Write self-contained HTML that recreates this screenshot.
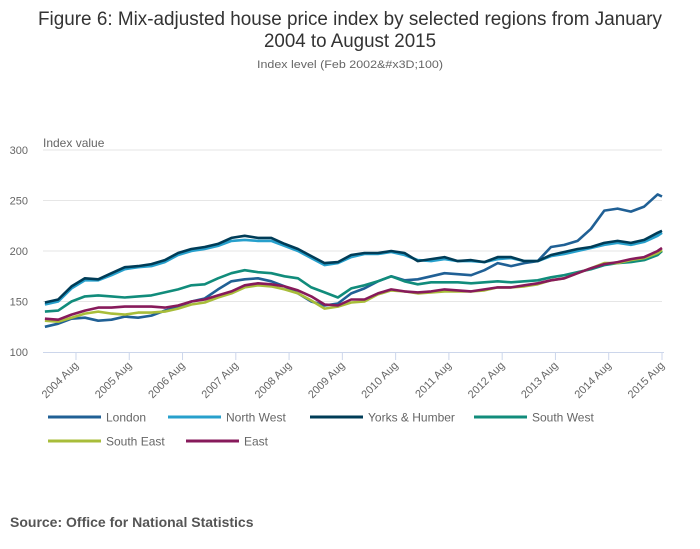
<!DOCTYPE html>
<html><head><meta charset="utf-8"><style>
html,body{margin:0;padding:0;background:#fff;}
svg{display:block;font-family:"Liberation Sans",sans-serif;}
</style></head><body>
<svg id="chart" width="700" height="549" viewBox="0 0 700 549" xmlns="http://www.w3.org/2000/svg">
<text x="350" y="25" text-anchor="middle" font-size="19" fill="#333" textLength="624" lengthAdjust="spacingAndGlyphs">Figure 6: Mix-adjusted house price index by selected regions from January</text>
<text x="350" y="47" text-anchor="middle" font-size="19" fill="#333" textLength="172" lengthAdjust="spacingAndGlyphs">2004 to August 2015</text>
<text x="350" y="68" text-anchor="middle" font-size="11" fill="#666" textLength="186" lengthAdjust="spacingAndGlyphs">Index level (Feb 2002&amp;#x3D;100)</text>
<text x="43" y="147" font-size="12" fill="#666">Index value</text>
<g id="grid"></g>
<g id="yticks"></g>
<g id="xaxis"></g>
<g id="series"></g>
<g id="legend"></g>
<text x="10" y="527" font-size="14" font-weight="bold" fill="#555">Source: Office for National Statistics</text>
</svg>
<script>
const months = [0,3,6,9,12,15,18,21,24,27,30,33,36,39,42,45,48,51,54,57,60,63,66,69,72,75,78,81,84,87,90,93,96,99,102,105,108,111,114,117,120,123,126,129,132,135,138,139];
const london = [125,128,133,134,131,132,135,134,136,141,145,150,153,162,170,172,173,170,165,158,150,146,148,158,163,170,175,171,172,175,178,177,176,181,188,185,188,190,204,206,210,222,240,242,239,244,256,254];
const northWest = [147,150,163,171,171,176,182,184,185,189,196,200,202,205,210,211,210,210,205,200,193,186,188,194,197,197,199,196,191,190,192,190,190,189,192,193,190,190,195,197,200,203,206,208,206,209,215,218];
const yorks = [149,152,165,173,172,178,184,185,187,191,198,202,204,207,213,215,213,213,207,202,195,188,189,196,198,198,200,198,190,192,194,190,191,189,194,194,190,190,196,199,202,204,208,210,208,211,218,220];
const southWest = [140,141,150,155,156,155,154,155,156,159,162,166,167,173,178,181,179,178,175,173,164,159,154,163,166,170,175,170,167,169,169,169,168,169,170,169,170,171,174,176,179,182,186,188,189,191,196,200];
const southEast = [131,130,134,138,140,138,137,139,139,140,143,147,149,154,158,164,166,165,162,158,151,143,145,149,150,157,161,160,158,159,160,160,160,161,164,164,165,167,171,173,178,183,188,188,191,193,198,201];
const east = [133,132,137,141,144,144,145,145,145,144,146,150,152,156,160,166,168,167,165,161,155,147,146,152,152,158,162,160,159,160,162,161,160,162,164,164,166,168,171,173,178,183,187,189,192,194,200,203];
const seriesNames = ["London","North West","Yorks & Humber","South West","South East","East"];
const yTicks = [100,150,200,250,300];
const xTickLabels = ["2004 Aug","2005 Aug","2006 Aug","2007 Aug","2008 Aug","2009 Aug","2010 Aug","2011 Aug","2012 Aug","2013 Aug","2014 Aug","2015 Aug"];
const xTickMonths = [7,19,31,43,55,67,79,91,103,115,127,139];

const NS="http://www.w3.org/2000/svg";
const X0=43, X1=662, Y0=352, Y1=150;
function xs(m){return 44.9+m*(662-44.9)/139;}
function ys(v){return Y0-(v-100)*(Y0-Y1)/200;}
function mk(tag,attrs,parent){const e=document.createElementNS(NS,tag);for(const k in attrs)e.setAttribute(k,attrs[k]);parent.appendChild(e);return e;}

const grid=document.getElementById('grid'), yt=document.getElementById('yticks');
yTicks.forEach(v=>{
  if(v>100){const l=mk('line',{x1:X0,x2:X1,y1:ys(v),y2:ys(v),stroke:'#e6e6e6','stroke-width':1},grid);
  
  }
  const t=mk('text',{x:28,y:ys(v)+4,'text-anchor':'end','font-size':11,fill:'#666'},yt);
  t.textContent=v;
  
  
});
const xa=document.getElementById('xaxis');
const al=mk('line',{x1:X0,x2:X1+2,y1:Y0+0.5,y2:Y0+0.5,stroke:'#ccd6eb','stroke-width':1},xa);


xTickMonths.forEach((m,i)=>{
  const x=xs(m);
  const tk=mk('line',{x1:x,x2:x,y1:Y0,y2:Y0+8,stroke:'#ccd6eb','stroke-width':1},xa);
  
  
  const t=mk('text',{x:x+3,y:Y0+14,'text-anchor':'end','font-size':11,fill:'#666',transform:`rotate(-45 ${x+3} ${Y0+14})`},xa);
  t.textContent=xTickLabels[i];
  
  
});
const colors=["#206095","#27a0cc","#003c57","#118c7b","#a8bd3a","#871a5b"];
const data=[london,northWest,yorks,southWest,southEast,east];
const sg=document.getElementById('series');
data.forEach((arr,i)=>{
  const d=arr.map((v,j)=>(j?'L':'M')+xs(months[j]).toFixed(1)+','+ys(v).toFixed(1)).join('');
  const p=mk('path',{d:d,fill:'none',stroke:colors[i],'stroke-width':2.6,'stroke-linejoin':'round'},sg);
  
  
});
const lg=document.getElementById('legend');
const lpos=[[48,417],[168,417],[310,417],[474,417],[48,441],[186,441]];
seriesNames.forEach((n,i)=>{
  const [x,y]=lpos[i];
  const g=mk('g',{},lg);
  
  
  mk('line',{x1:x,x2:x+53,y1:y,y2:y,stroke:colors[i],'stroke-width':3},g);
  const t=mk('text',{x:x+58,y:y+4.5,'font-size':12,fill:'#666'},g);
  t.textContent=n;
});
</script>
</body></html>
